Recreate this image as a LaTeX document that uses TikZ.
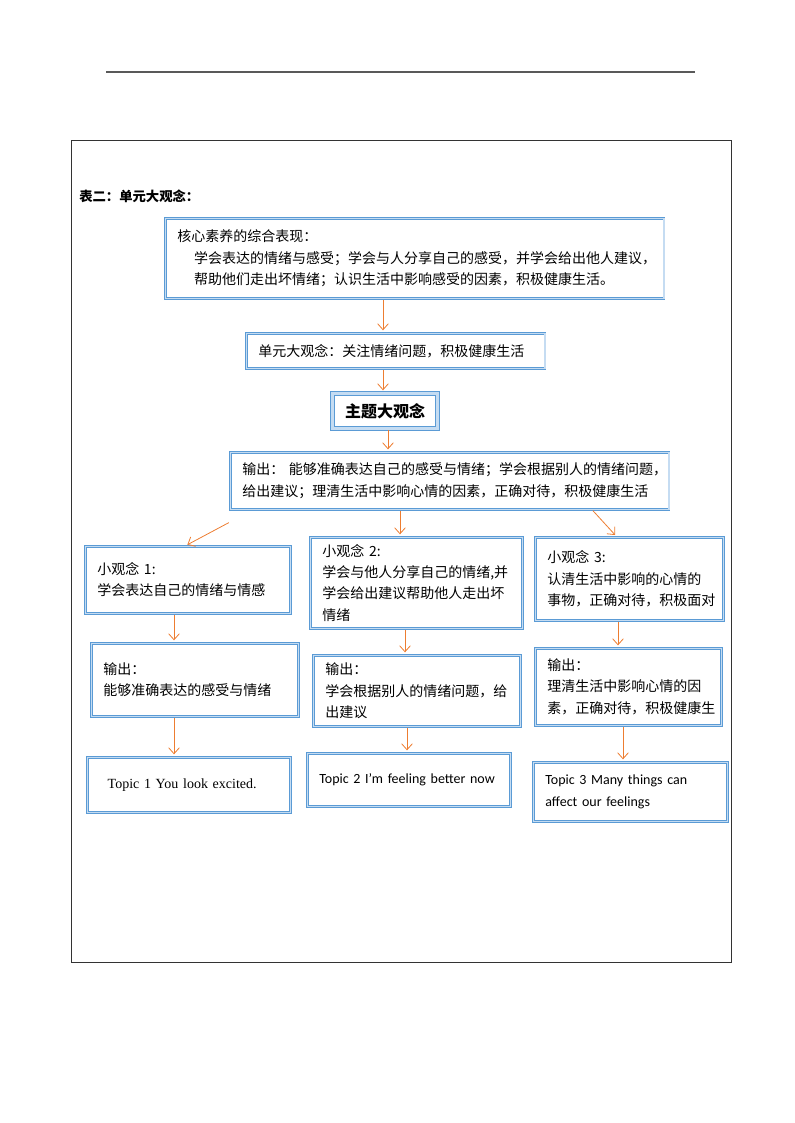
\documentclass[tikz,border=0pt]{standalone}
\usepackage{fontspec}
\setmainfont{Noto Sans CJK SC}
\newfontfamily\topicserif{Liberation Serif}
\newfontfamily\topicsans{Carlito}
\usetikzlibrary{arrows.meta}
\definecolor{boxblue}{HTML}{5B9BD5}
\definecolor{boxlight}{HTML}{C5DCF2}
\definecolor{arroworange}{HTML}{ED7D31}

\begin{document}
\begin{tikzpicture}[x=0.75pt,y=-0.75pt]
\tikzstyle{block} = [rectangle, draw=boxblue, double=boxlight, double distance=1.1pt,
line width=0.5pt, anchor=north west, align=left, inner xsep=9pt, inner ysep=3pt,
font=\fontsize{10.5}{16}\selectfont]
\tikzstyle{theme} = [block, line width=0.8pt, double distance=1.6pt, align=center,
font=\fontsize{12}{14}\selectfont\bfseries]
\tikzstyle{line} = [draw=arroworange, line width=0.6pt, -{Straight Barb[length=4.5pt,width=8pt]},
shorten <=1pt, shorten >=2pt]
\useasboundingbox (0,0) rectangle (794,1123);
% page rule and table frame
\draw[black!65, line width=1pt] (106,72) -- (695,72);
\draw[black!80, line width=0.6pt] (71,140) rectangle (731,962);
\node[anchor=west, inner sep=0pt, font=\fontsize{10}{12}\selectfont\bfseries] (title) at (79,196) {表二：单元大观念：};

% top chain
\node[block, text width=356pt, minimum height=60pt] (core) at (165,218) {核心素养的综合表现：\\
\hspace*{1.2em}学会表达的情绪与感受；学会与人分享自己的感受，并学会给出他人建议，\\
\hspace*{1.2em}帮助他们走出坏情绪；认识生活中影响感受的因素，积极健康生活。};
\node[block, text width=206pt, minimum height=26.25pt] (unit) at (246,333) {单元大观念：关注情绪问题，积极健康生活};
\node[theme, text width=60.75pt, minimum height=26.25pt] (theme) at (332,393) {主题大观念};
\node[block, text width=311pt, minimum height=42.75pt] (out) at (230,452) {输出：\ 能够准确表达自己的感受与情绪；学会根据别人的情绪问题，\\
给出建议；理清生活中影响心情的因素，正确对待，积极健康生活};

% three branches
\node[block, text width=135.75pt, minimum height=50.25pt] (idea1) at (85,546) {小观念 1:\\ 学会表达自己的情绪与情感};
\node[block, text width=141pt, minimum height=68.25pt] (idea2) at (310,537) {小观念 2:\\ 学会与他人分享自己的情绪,并\\ 学会给出建议帮助他人走出坏\\ 情绪};
\node[block, text width=123pt, minimum height=62.25pt] (idea3) at (535,537) {小观念 3:\\ 认清生活中影响的心情的\\ 事物，正确对待，积极面对};

\node[block, text width=137.25pt, minimum height=54.75pt] (res1) at (91,643) {输出：\\ 能够准确表达的感受与情绪};
\node[block, text width=137.25pt, minimum height=53.25pt] (res2) at (313,655) {输出：\\ 学会根据别人的情绪问题，给\\ 出建议};
\node[block, text width=121.5pt, minimum height=57.75pt] (res3) at (535,648) {输出：\\ 理清生活中影响心情的因\\ 素，正确对待，积极健康生};

\node[block, text width=134.25pt, minimum height=41.25pt, font=\fontsize{10.5}{16}\topicserif] (topic1) at (87,757) {\hspace*{0.6em}Topic 1 You look excited.};
\node[block, text width=134.25pt, minimum height=39.75pt, font=\fontsize{10.5}{16}\topicsans] (topic2) at (307,753) {Topic 2 I’m feeling better now};
\node[block, text width=127.5pt, minimum height=44.25pt, font=\fontsize{10.5}{16}\topicsans] (topic3) at (533,762) {Topic 3 Many things can\\ affect our feelings};

\coordinate (split) at (230,522);

\draw[line] (core.south -| 383,0) -- (unit.north -| 383,0);
\draw[line] (unit.south -| 383,0) -- (theme.north -| 383,0);
\draw[line] (theme.south -| 388,0) -- (out.north -| 388,0);
\draw[line] (split) -- (idea1.north -| 185,0);
\draw[line] (out.south -| 400,0) -- (idea2.north -| 400,0);
\draw[line] (out.south -| 592,0) -- (idea3.north -| 617,0);
\draw[line] (idea1.south -| 174,0) -- (res1.north -| 174,0);
\draw[line] (idea2.south -| 405,0) -- (res2.north -| 405,0);
\draw[line] (idea3.south -| 618,0) -- (res3.north -| 618,0);
\draw[line] (res1.south -| 174,0) -- (topic1.north -| 174,0);
\draw[line] (res2.south -| 407,0) -- (topic2.north -| 407,0);
\draw[line] (res3.south -| 623,0) -- (topic3.north -| 623,0);
\end{tikzpicture}
\end{document}
